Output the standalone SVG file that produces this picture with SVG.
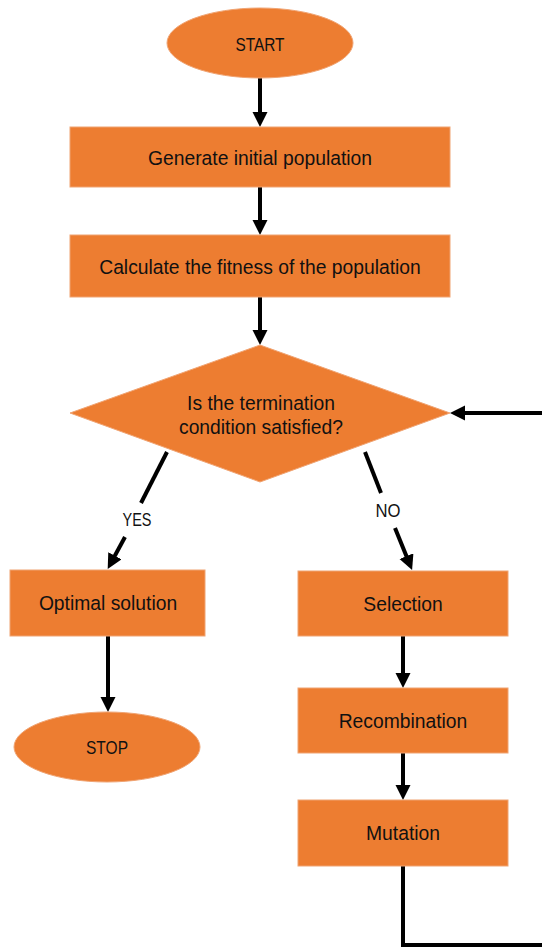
<svg xmlns="http://www.w3.org/2000/svg" width="542" height="947" viewBox="0 0 542 947">
  <style>
    .shape { fill: #ED7D31; stroke: #F0A473; stroke-width: 1; }
    .label { font-family: "Liberation Sans", Arial, sans-serif; font-size: 19.3px; fill: #111; text-anchor: middle; dominant-baseline: central; }
    .caps { font-size: 18px; }
    .edge { fill: none; stroke: #000; stroke-width: 4; }
    .arrow { marker-end: url(#head); }
  </style>
  <defs>
    <marker id="head" markerUnits="userSpaceOnUse" markerWidth="16" markerHeight="16" refX="2" refY="7.5" orient="auto">
      <path d="M0,0 L15,7.5 L0,15 Z" fill="#000"/>
    </marker>
  </defs>
  <rect width="542" height="947" fill="#fff"/>

  <g id="connectors">
    <line class="edge arrow" x1="260" y1="78" x2="260" y2="114"/>
    <line class="edge arrow" x1="260" y1="187" x2="260" y2="222"/>
    <line class="edge arrow" x1="260" y1="297" x2="260" y2="332"/>
    <!-- YES branch, split around its label -->
    <line class="edge" x1="167" y1="452" x2="141" y2="503"/>
    <line class="edge arrow" x1="125" y1="537" x2="113.9" y2="557.5"/>
    <!-- NO branch, split around its label -->
    <line class="edge" x1="365" y1="452" x2="381" y2="493"/>
    <line class="edge arrow" x1="395" y1="528" x2="407.2" y2="558"/>
    <line class="edge arrow" x1="108" y1="636" x2="108" y2="699"/>
    <line class="edge arrow" x1="403" y1="636" x2="403" y2="675"/>
    <line class="edge arrow" x1="403" y1="753" x2="403" y2="787"/>
    <!-- loop back from Mutation to the decision; its right leg runs past the page edge -->
    <polyline class="edge arrow" points="403,866 403,945 600,945 600,413 463,413"/>
    <text class="label caps" x="137" y="520" textLength="29" lengthAdjust="spacingAndGlyphs">YES</text>
    <text class="label caps" x="388" y="511" textLength="25" lengthAdjust="spacingAndGlyphs">NO</text>
  </g>

  <g id="start">
    <ellipse class="shape" cx="260" cy="43" rx="93" ry="35"/>
    <text class="label caps" x="260" y="45" textLength="49" lengthAdjust="spacingAndGlyphs">START</text>
  </g>
  <g id="generate">
    <rect class="shape" x="70" y="127" width="380" height="60"/>
    <text class="label" x="260" y="158">Generate initial population</text>
  </g>
  <g id="fitness">
    <rect class="shape" x="70" y="235" width="380" height="62"/>
    <text class="label" x="260" y="267">Calculate the fitness of the population</text>
  </g>
  <g id="decision">
    <polygon class="shape" points="260,345 450,413 260,482 70,413"/>
    <text class="label" x="261" y="403">Is the termination</text>
    <text class="label" x="261" y="427">condition satisfied?</text>
  </g>
  <g id="optimal">
    <rect class="shape" x="10" y="570" width="195" height="66"/>
    <text class="label" x="108" y="603">Optimal solution</text>
  </g>
  <g id="stop">
    <ellipse class="shape" cx="107" cy="747" rx="93" ry="35"/>
    <text class="label caps" x="107" y="748" textLength="42" lengthAdjust="spacingAndGlyphs">STOP</text>
  </g>
  <g id="selection">
    <rect class="shape" x="298" y="571" width="210" height="65"/>
    <text class="label" x="403" y="604">Selection</text>
  </g>
  <g id="recombination">
    <rect class="shape" x="298" y="688" width="210" height="65"/>
    <text class="label" x="403" y="721">Recombination</text>
  </g>
  <g id="mutation">
    <rect class="shape" x="298" y="800" width="210" height="66"/>
    <text class="label" x="403" y="833">Mutation</text>
  </g>
</svg>
